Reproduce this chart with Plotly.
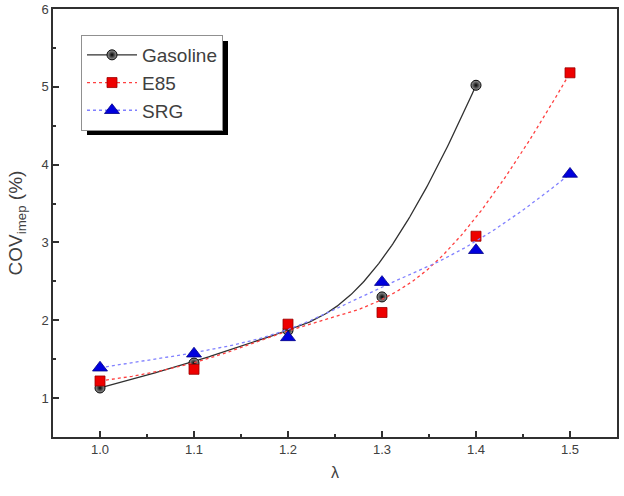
import numpy as np
import plotly.graph_objects as go

# ---- data ----
lam_gasoline = [1.0, 1.1, 1.2, 1.3, 1.4]
cov_gasoline = [1.13, 1.45, 1.87, 2.30, 5.02]
lam_e85 = [1.0, 1.1, 1.2, 1.3, 1.4, 1.5]
cov_e85 = [1.22, 1.37, 1.95, 2.10, 3.08, 5.18]
lam_srg = [1.0, 1.1, 1.2, 1.3, 1.4, 1.5]
cov_srg = [1.39, 1.57, 1.78, 2.49, 2.90, 3.88]
x_ticks = [1.0, 1.1, 1.2, 1.3, 1.4, 1.5]
x_ticklabels = ["1.0", "1.1", "1.2", "1.3", "1.4", "1.5"]
y_ticks = [1, 2, 3, 4, 5, 6]


def bspline(xs, ys, degree=3, n=300):
    """Clamped B-spline connection using the data points as control points
    (Origin's 'B-Spline' line connection)."""
    P = np.column_stack([xs, ys]).astype(float)
    m = len(P)
    k = min(degree, m - 1)
    inner = np.arange(1, m - k)
    knots = np.concatenate([np.zeros(k + 1), inner, np.full(k + 1, m - k)]).astype(float)
    ts = np.linspace(0, m - k, n)
    out = []
    for t in ts:
        if t >= knots[-1]:
            s = m - 1
        else:
            s = np.searchsorted(knots, t, side="right") - 1
        d = [P[j + s - k].copy() for j in range(k + 1)]
        for r in range(1, k + 1):
            for j in range(k, r - 1, -1):
                i = j + s - k
                denom = knots[i + k + 1 - r] - knots[i]
                a = 0.0 if denom == 0 else (t - knots[i]) / denom
                d[j] = (1 - a) * d[j - 1] + a * d[j]
        out.append(d[k])
    out = np.array(out)
    return out[:, 0], out[:, 1]


fig = go.Figure()

series = [
    ("Gasoline", lam_gasoline, cov_gasoline, dict(color="#303030", width=1.3, dash="solid"),
     dict(symbol="circle", size=10, color="#a0a0a0",
          gradient=dict(type="radial", color="#000000"),
          line=dict(color="#000000", width=1))),
    ("E85", lam_e85, cov_e85, dict(color="#ff4040", width=1.3, dash="3px,3px"),
     dict(symbol="square", size=10, color="#ee0000", line=dict(color="#990000", width=0.8))),
    ("SRG", lam_srg, cov_srg, dict(color="#8080ff", width=1.3, dash="dot"),
     dict(symbol="triangle-up", size=13, color="#0000dd", line=dict(color="#000088", width=0.8))),
]

for name, xs, ys, line, marker in series:
    cx, cy = bspline(xs, ys)
    fig.add_trace(go.Scatter(x=cx, y=cy, mode="lines", line=line, showlegend=False,
                             hoverinfo="skip", legendgroup=name))
    fig.add_trace(go.Scatter(x=xs, y=ys, mode="markers", name=name, marker=marker,
                             showlegend=False, legendgroup=name))
    # legend entry
    fig.add_trace(go.Scatter(x=[None], y=[None], mode="lines+markers", name=name,
                             line=line, marker=marker, legendgroup=name))

# legend shadow (decoration)
W, H = 564, 428
def px(x): return (x - 53) / W
def py(y): return 1 - (y - 9) / H
fig.add_shape(type="rect", xref="paper", yref="paper",
              x0=px(87), x1=px(228), y0=py(135), y1=py(41),
              fillcolor="black", line=dict(width=0), layer="above")

fig.update_layout(
    width=624, height=496,
    margin=dict(l=53, r=7, t=9, b=59, autoexpand=False),
    paper_bgcolor="white", plot_bgcolor="white",
    font=dict(family="Liberation Sans, Arial, sans-serif", color="#404040", size=13),
    legend=dict(x=px(81), y=py(35), xanchor="left", yanchor="top",
                bgcolor="white", bordercolor="#909090", borderwidth=1,
                font=dict(size=19, color="#404040"), tracegroupgap=0,
                itemwidth=50),
    xaxis=dict(range=[0.95, 1.55], tickvals=x_ticks, ticktext=x_ticklabels,
               automargin=False,
               showgrid=False, zeroline=False, showline=True, linecolor="#303030",
               linewidth=1.5, mirror=True, ticks="inside", ticklen=6, tickwidth=1.5,
               tickcolor="#303030",
               minor=dict(dtick=0.05, ticks="inside", ticklen=3, tickwidth=1.5,
                          tickcolor="#303030", showgrid=False),
               title=dict(text="λ", font=dict(size=16, color="#404040"), standoff=10)),
    yaxis=dict(range=[0.5, 6], tickvals=y_ticks,
               automargin=False,
               showgrid=False, zeroline=False, showline=True, linecolor="#303030",
               linewidth=1.5, mirror=True, ticks="inside", ticklen=6, tickwidth=1.5,
               tickcolor="#303030",
               minor=dict(dtick=0.5, ticks="inside", ticklen=3, tickwidth=1.5,
                          tickcolor="#303030", showgrid=False),
               title=dict(text="COV<sub>imep</sub> (%)", font=dict(size=19, color="#404040"),
                          standoff=14)),
)

fig.write_html("out.html")
